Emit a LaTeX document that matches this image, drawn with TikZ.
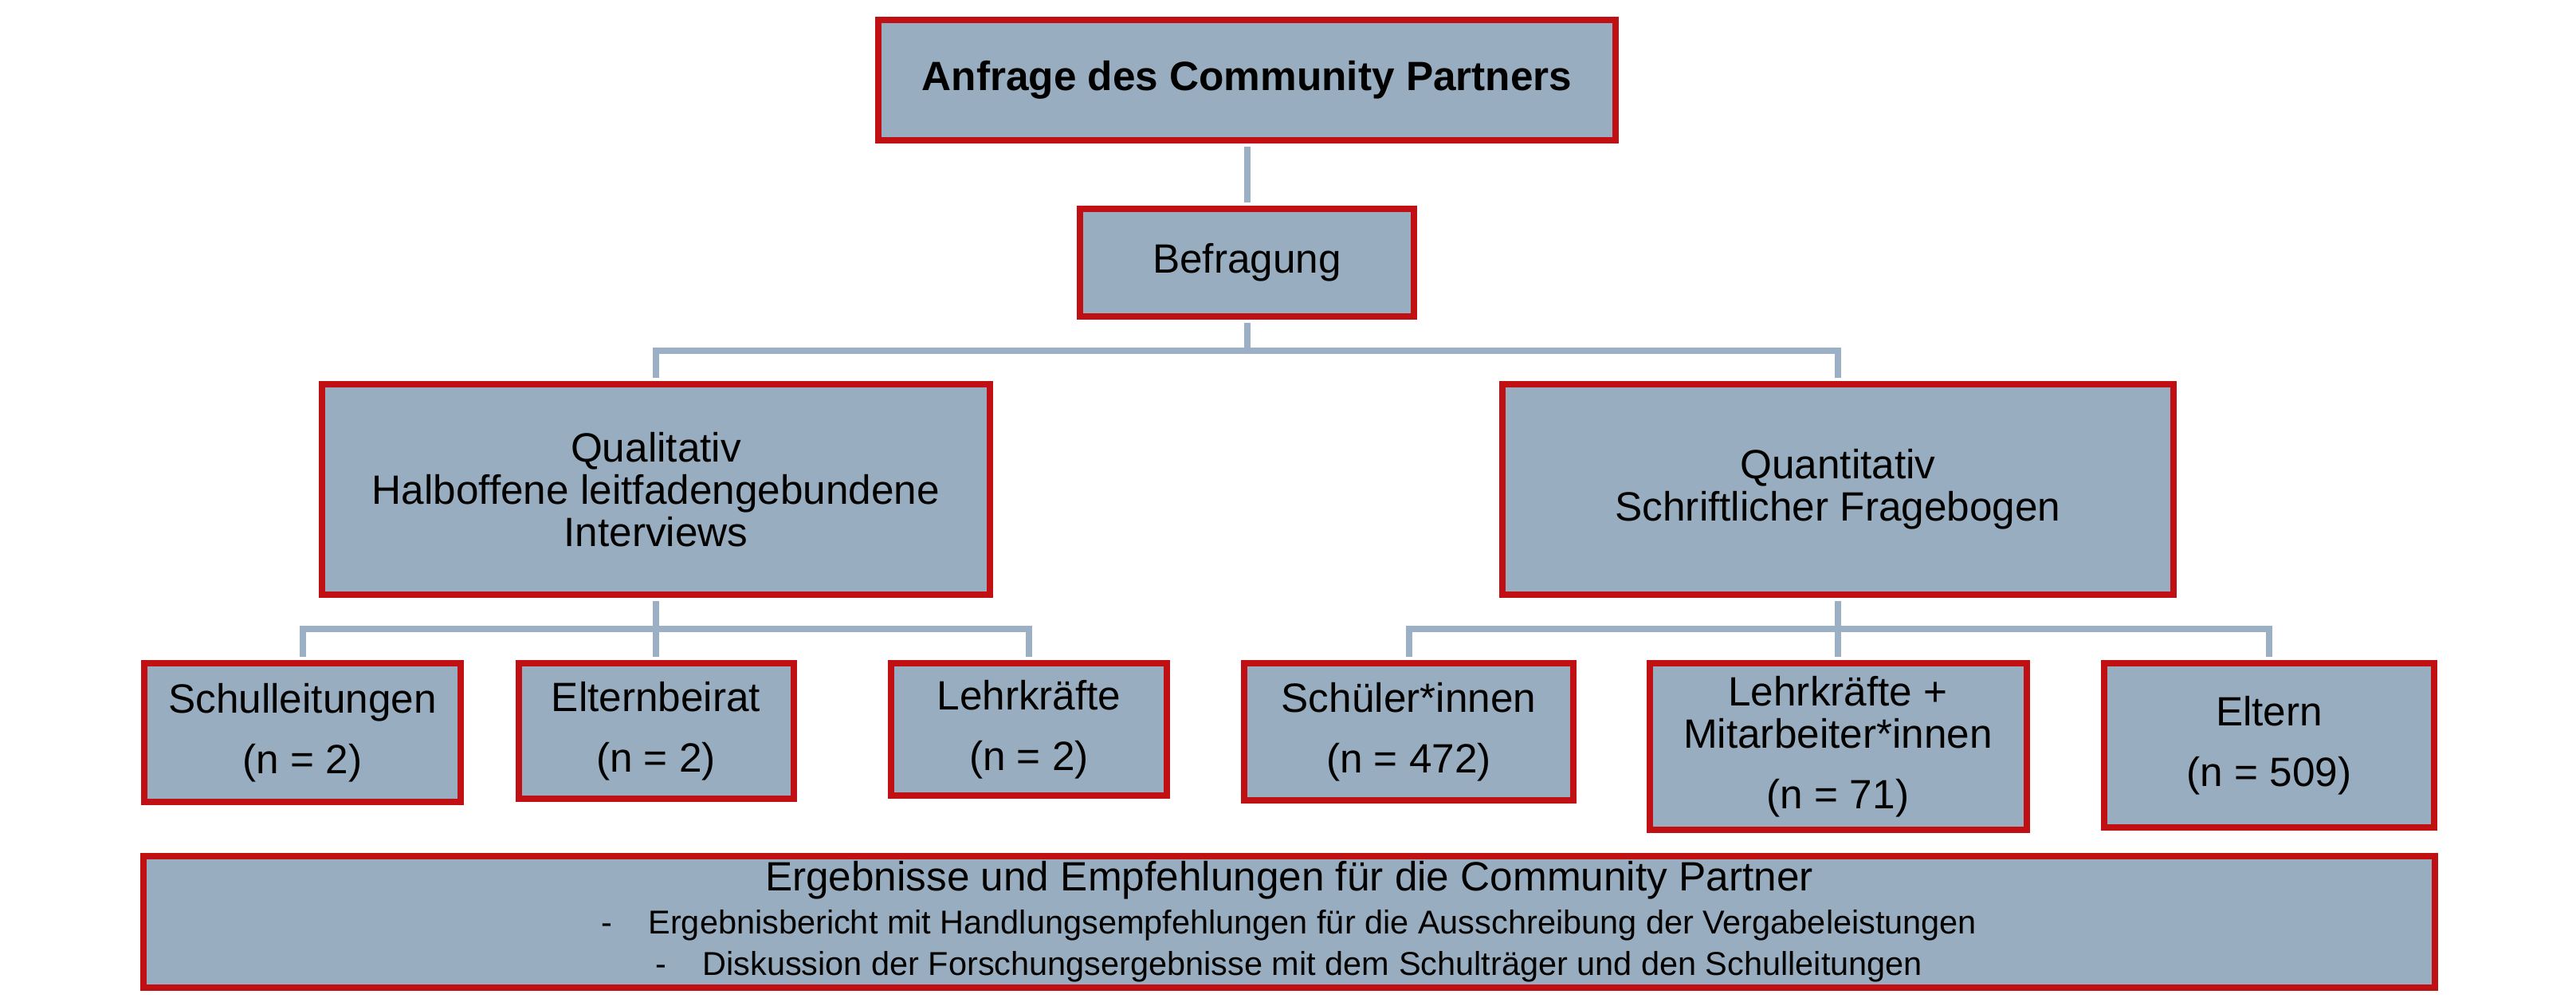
\documentclass[tikz,border=0pt]{standalone}
\usepackage{fontspec}
\setmainfont{Liberation Sans}
\usetikzlibrary{calc}
\definecolor{kastenblau}{RGB}{152,174,192}
\definecolor{kastenrot}{RGB}{192,16,20}
\definecolor{linienblau}{RGB}{155,176,196}
\tikzset{
	kasten/.style={draw=kastenrot, fill=kastenblau, line width=0.08cm, align=center, inner sep=0pt, font=\fontsize{14.6}{15.1}\selectfont},
	verbindung/.style={draw=linienblau, line width=0.08cm, shorten <=0.04cm, shorten >=0.04cm},
}
\begin{document}
\begin{tikzpicture}
		%%%%% START %%%%%
		
		\useasboundingbox (0, 0) rectangle (32.32, -12.62);
		
		\node[kasten, minimum width=9.25cm, minimum height=1.51cm, font=\fontsize{14.6}{15.1}\selectfont\bfseries] (anfrage) at (15.645, -1.005) {Anfrage des Community Partners};
		\node[kasten, minimum width=4.19cm, minimum height=1.35cm] (befragung) at (15.645, -3.295) {Befragung};
		
		\node[kasten, minimum width=8.38cm, minimum height=2.64cm] (quali) at (8.23, -6.14) {Qualitativ\\Halboffene leitfadengebundene\\Interviews};
		\node[kasten, minimum width=8.42cm, minimum height=2.64cm] (quanti) at (23.06, -6.14) {Quantitativ\\Schriftlicher Fragebogen};
		
		\node[kasten, minimum width=3.97cm, minimum height=1.74cm] (schulleitung) at (3.795, -9.19) {Schulleitungen\\[6.5pt](n = 2)};
		\node[kasten, minimum width=3.45cm, minimum height=1.70cm] (elternbeirat) at (8.23, -9.17) {Elternbeirat\\[6.5pt](n = 2)};
		\node[kasten, minimum width=3.46cm, minimum height=1.66cm] (lehrkraefte) at (12.91, -9.15) {Lehrkräfte\\[6.5pt](n = 2)};
		
		\node[kasten, minimum width=4.13cm, minimum height=1.72cm] (schueler) at (17.675, -9.18) {Schüler*innen\\[6.5pt](n = 472)};
		\node[kasten, minimum width=4.73cm, minimum height=2.09cm] (mitarbeiter) at (23.06, -9.365) {Lehrkräfte +\\Mitarbeiter*innen\\[6.5pt](n = 71)};
		\node[kasten, minimum width=4.14cm, minimum height=2.06cm] (eltern) at (28.47, -9.35) {Eltern\\[6.5pt](n = 509)};
		
		\node[kasten, minimum width=28.75cm, minimum height=1.65cm, font=\fontsize{11.8}{14.8}\selectfont] (ergebnis) at (16.175, -11.565) {{\fontsize{14.6}{14.8}\selectfont Ergebnisse und Empfehlungen für die Community Partner}\\[0.5pt]-\hspace{0.45cm}Ergebnisbericht mit Handlungsempfehlungen für die Ausschreibung der Vergabeleistungen\\-\hspace{0.45cm}Diskussion der Forschungsergebnisse mit dem Schulträger und den Schulleitungen};
		
		\coordinate (gabel) at (15.645, -4.40);
		\coordinate (gabellinks) at (8.23, -7.89);
		\coordinate (gabelrechts) at (23.06, -7.89);
		
		\draw[verbindung] (anfrage) -- (befragung);
		\draw[verbindung, shorten >=0cm] (befragung) -- (gabel);
		\draw[verbindung] (quali) |- (gabel) -| (quanti);
		
		\draw[verbindung] (quali) -- (elternbeirat);
		\draw[verbindung] (schulleitung) |- (gabellinks) -| (lehrkraefte);
		
		\draw[verbindung] (quanti) -- (mitarbeiter);
		\draw[verbindung] (schueler) |- (gabelrechts) -| (eltern);
		
		%%%%% END %%%%%
	\end{tikzpicture}
\end{document}
